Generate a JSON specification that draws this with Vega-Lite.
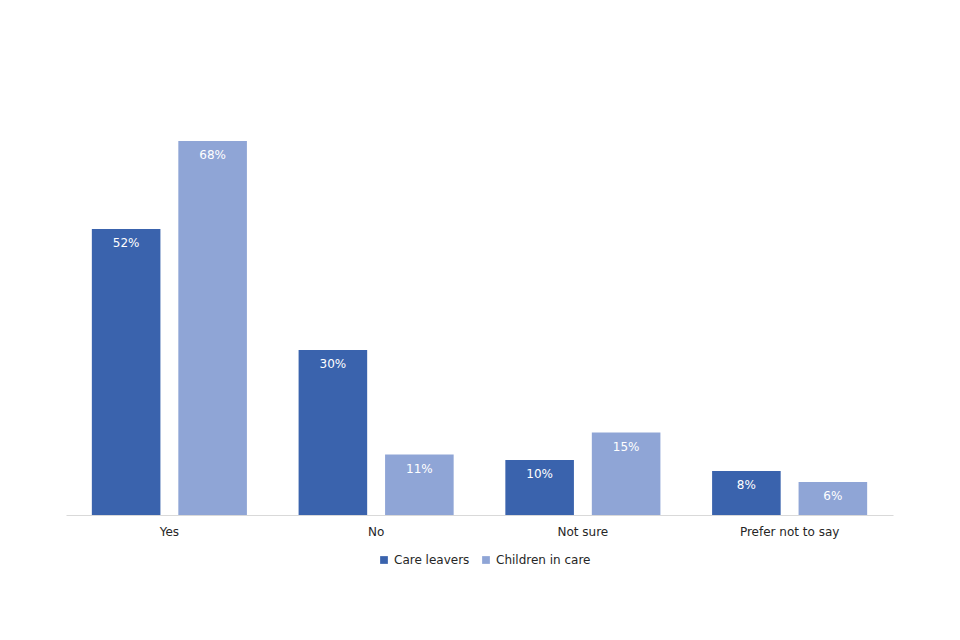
{
  "$schema": "https://vega.github.io/schema/vega-lite/v6.json",
  "autosize": "none",
  "width": 827,
  "height": 440,
  "padding": {"left": 66, "top": 75, "right": 67, "bottom": 125},
  "background": "white",
  "config": {
    "view": {"stroke": null},
    "font": "DejaVu Sans"
  },
  "data": {
    "values": [
      {"answer": "Yes", "group": "Care leavers", "value": 0.52, "label": "52%"},
      {"answer": "Yes", "group": "Children in care", "value": 0.68, "label": "68%"},
      {"answer": "No", "group": "Care leavers", "value": 0.30, "label": "30%"},
      {"answer": "No", "group": "Children in care", "value": 0.11, "label": "11%"},
      {"answer": "Not sure", "group": "Care leavers", "value": 0.10, "label": "10%"},
      {"answer": "Not sure", "group": "Children in care", "value": 0.15, "label": "15%"},
      {"answer": "Prefer not to say", "group": "Care leavers", "value": 0.08, "label": "8%"},
      {"answer": "Prefer not to say", "group": "Children in care", "value": 0.06, "label": "6%"}
    ]
  },
  "encoding": {
    "x": {
      "field": "answer", "type": "nominal",
      "sort": ["Yes", "No", "Not sure", "Prefer not to say"],
      "scale": {"paddingInner": 0.25, "paddingOuter": 0.125},
      "axis": {
        "title": null, "labelAngle": 0, "ticks": false, "domainColor": "#d9d9d9",
        "domainWidth": 1, "labelFontSize": 12, "labelColor": "#262626", "labelPadding": 11
      }
    },
    "xOffset": {
      "field": "group", "type": "nominal",
      "sort": ["Care leavers", "Children in care"],
      "scale": {"paddingInner": 0.207, "paddingOuter": 0}
    },
    "y": {
      "field": "value", "type": "quantitative",
      "scale": {"domain": [0, 0.8]},
      "axis": null
    }
  },
  "layer": [
    {
      "mark": {"type": "bar"},
      "encoding": {
        "color": {
          "field": "group", "type": "nominal",
          "sort": ["Care leavers", "Children in care"],
          "scale": {"domain": ["Care leavers", "Children in care"], "range": ["#3A63AD", "#8FA5D6"]},
          "legend": {
            "title": null, "orient": "none", "legendX": 312, "legendY": 479,
            "direction": "horizontal", "symbolType": "square", "symbolSize": 60,
            "labelFontSize": 12, "labelColor": "#262626", "columnPadding": 10, "symbolOffset": 0
          }
        }
      }
    },
    {
      "mark": {"type": "text", "color": "white", "baseline": "middle", "dy": 14, "fontSize": 12},
      "encoding": {
        "text": {"field": "label", "type": "nominal"}
      }
    }
  ]
}
